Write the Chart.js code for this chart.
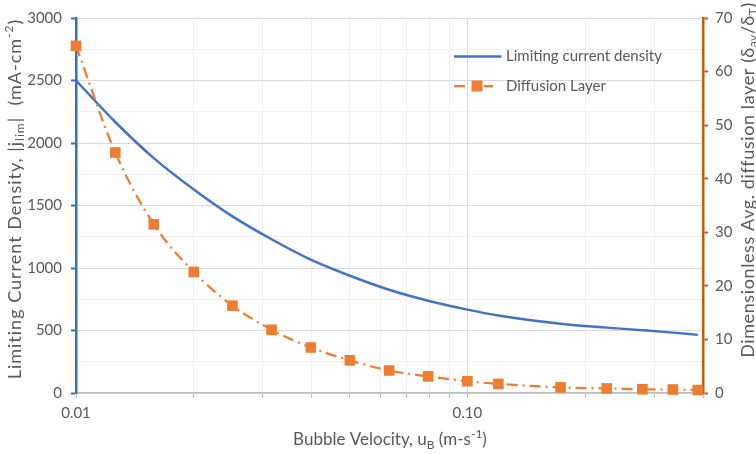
<!DOCTYPE html>
<html>
<head>
<meta charset="utf-8">
<script src="https://cdn.jsdelivr.net/npm/chart.js@4/dist/chart.umd.min.js"></script>
<style>
  html, body { margin: 0; padding: 0; background: #ffffff; }
  #wrap { width: 756px; height: 454px; }
</style>
</head>
<body>
<div id="wrap"><canvas id="chart" width="756" height="454"></canvas></div>
<script>
// Bubble velocity u_B (m/s)
const velocity = [0.01, 0.0126, 0.0158, 0.02, 0.0251, 0.0316, 0.0398, 0.0501, 0.0631, 0.0794, 0.1, 0.12, 0.173, 0.227, 0.28, 0.335, 0.388];
// Limiting current density |j_lim| (mA/cm^2), left axis
const currentDensity = [2500, 2168, 1879, 1628, 1413, 1230, 1067, 938, 826, 738, 667, 620, 554, 523, 502, 483, 465];
// Dimensionless average diffusion layer (delta_av / delta_T), right axis
const diffusionLayer = [64.8, 44.9, 31.5, 22.6, 16.3, 11.8, 8.5, 6.1, 4.2, 3.1, 2.2, 1.7, 1.05, 0.86, 0.7, 0.65, 0.55];

// Log axis tick positions and the ones that carry a label
const xTickValues = [0.01, 0.02, 0.03, 0.04, 0.05, 0.06, 0.07, 0.08, 0.09, 0.1, 0.2, 0.3, 0.4];
const xTickLabels = [['0.01', 0.01], ['0.10', 0.1]];

const seriesNames = ['Limiting current density', 'Diffusion Layer'];

// Axis titles with sub/superscript runs: [text, kind]
const xTitle = [['Bubble Velocity, u', 'n'], ['B', 'sub'], [' (m-s', 'n'], ['-1', 'sup'], [')', 'n']];
const yTitle = [['Limiting Current Density, |j', 'n'], ['lim', 'sub'], ['|  (mA-cm', 'n'], ['-2', 'sup'], [')', 'n']];
const y1Title = [['Dimensionless Avg. diffusion layer (\u03b4', 'n'], ['av', 'sub'], ['/\u03b4', 'n'], ['T', 'sub'], [')', 'n']];

const FONT = 'Lato';
const TEXT = '#595959';
const BLUE = '#4472C4';
const ORANGE = '#ED7D31';
const LEFT_AXIS = '#2E75B6';
const RIGHT_AXIS = '#C55A11';

function near(a, b) { return Math.abs(a - b) < 1e-9; }

function drawRich(ctx, parts, x, y, rotation, size, spacing) {
  const fontFor = k => (k === 'n' ? size : Math.round(size * 0.68)) + 'px ' + FONT;
  ctx.save();
  ctx.letterSpacing = (spacing || 0) + 'px';
  let total = 0;
  parts.forEach(([t, k]) => { ctx.font = fontFor(k); total += ctx.measureText(t).width; });
  ctx.translate(x, y);
  ctx.rotate(rotation);
  ctx.fillStyle = TEXT;
  ctx.textBaseline = 'middle';
  ctx.textAlign = 'left';
  let cx = -total / 2;
  parts.forEach(([t, k]) => {
    ctx.font = fontFor(k);
    const dy = k === 'sub' ? size * 0.3 : (k === 'sup' ? -size * 0.35 : 0);
    ctx.fillText(t, cx, dy);
    cx += ctx.measureText(t).width;
  });
  ctx.restore();
}

const annotations = {
  id: 'annotations',
  afterDraw(chart) {
    const ctx = chart.ctx;
    // axis titles
    drawRich(ctx, xTitle, 390, 440, 0, 17, 0);
    drawRich(ctx, yTitle, 15, 199, -Math.PI / 2, 18, 1);
    drawRich(ctx, y1Title, 748, 180, -Math.PI / 2, 18, 0.6);

    // legend
    const ds = chart.data.datasets;
    ctx.save();
    ctx.font = '15px ' + FONT;
    ctx.fillStyle = TEXT;
    ctx.textBaseline = 'middle';
    ctx.textAlign = 'left';
    // entry 1: solid line
    ctx.strokeStyle = ds[0].borderColor;
    ctx.lineWidth = ds[0].borderWidth;
    ctx.beginPath(); ctx.moveTo(454, 56.5); ctx.lineTo(501.5, 56.5); ctx.stroke();
    ctx.fillText(seriesNames[0], 506, 56.5);
    // entry 2: dashed line with square marker
    ctx.strokeStyle = ds[1].borderColor;
    ctx.lineWidth = ds[1].borderWidth;
    ctx.beginPath(); ctx.moveTo(454, 86); ctx.lineTo(465, 86); ctx.moveTo(484, 86); ctx.lineTo(493, 86); ctx.stroke();
    ctx.fillStyle = ds[1].pointBackgroundColor;
    ctx.fillRect(471.5, 80.5, 11, 11);
    ctx.fillStyle = TEXT;
    ctx.fillText(seriesNames[1], 506, 86);
    ctx.restore();
  }
};

new Chart(document.getElementById('chart'), {
  type: 'line',
  data: {
    datasets: [
      {
        label: seriesNames[0],
        data: velocity.map((v, i) => ({ x: v, y: currentDensity[i] })),
        yAxisID: 'y',
        borderColor: BLUE,
        backgroundColor: BLUE,
        borderWidth: 2.5,
        pointRadius: 0,
        cubicInterpolationMode: 'monotone',
        fill: false,
        order: 2
      },
      {
        label: seriesNames[1],
        data: velocity.map((v, i) => ({ x: v, y: diffusionLayer[i] })),
        yAxisID: 'y1',
        borderColor: ORANGE,
        backgroundColor: ORANGE,
        borderWidth: 2.25,
        borderDash: [11, 5, 2, 5],
        pointStyle: 'rect',
        pointRadius: 7.5,
        pointBackgroundColor: ORANGE,
        pointBorderColor: ORANGE,
        pointBorderWidth: 0,
        cubicInterpolationMode: 'monotone',
        fill: false,
        clip: false,
        order: 1
      }
    ]
  },
  options: {
    responsive: false,
    devicePixelRatio: 1,
    animation: false,
    layout: { padding: { top: 13, left: 0, right: 0, bottom: 0 } },
    plugins: {
      legend: { display: false },
      tooltip: { enabled: false }
    },
    scales: {
      x: {
        type: 'logarithmic',
        position: 'bottom',
        min: 0.01,
        max: 0.4,
        afterBuildTicks(scale) {
          scale.ticks = xTickValues.map(v => ({ value: v }));
        },
        afterFit(scale) { scale.height = 61; },
        ticks: {
          autoSkip: false,
          maxRotation: 0,
          padding: 6,
          color: TEXT,
          font: { family: FONT, size: 15 },
          callback(value) {
            const hit = xTickLabels.find(([, v]) => near(v, value));
            return hit ? hit[0] : '';
          }
        },
        grid: {
          color: c => (near(c.tick.value, 0.01) || near(c.tick.value, 0.1)) ? '#d9d9d9' : '#efefef',
          lineWidth: 1,
          tickLength: 5,
          tickColor: '#bfbfbf',
          tickWidth: 1
        },
        border: { color: '#bfbfbf', width: 1.5 }
      },
      y: {
        position: 'left',
        min: 0,
        max: 3000,
        afterFit(scale) { scale.width = 76; },
        ticks: {
          stepSize: 250,
          padding: 9,
          color: TEXT,
          font: { family: FONT, size: 15 },
          callback: v => (v % 500 === 0 ? String(v) : '')
        },
        grid: {
          color: c => (c.tick.value % 500 === 0 ? '#d9d9d9' : '#f0f0f0'),
          lineWidth: 1,
          tickLength: 5,
          tickWidth: 2,
          tickColor: c => (c.tick.value % 500 === 0 ? LEFT_AXIS : 'rgba(0,0,0,0)')
        },
        border: { color: LEFT_AXIS, width: 2.5 }
      },
      y1: {
        position: 'right',
        min: 0,
        max: 70,
        afterFit(scale) { scale.width = 53; },
        ticks: {
          stepSize: 10,
          padding: 7,
          color: TEXT,
          font: { family: FONT, size: 15 }
        },
        grid: {
          drawOnChartArea: false,
          tickLength: 5,
          tickWidth: 2,
          tickColor: RIGHT_AXIS
        },
        border: { color: RIGHT_AXIS, width: 2.5 }
      }
    }
  },
  plugins: [annotations]
});
</script>
</body>
</html>
